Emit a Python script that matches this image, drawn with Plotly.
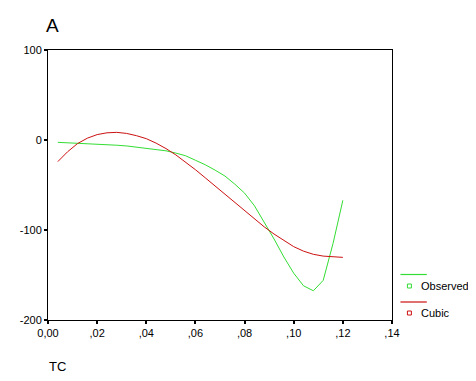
import plotly.graph_objects as go

tc = [0.004, 0.008, 0.012, 0.016, 0.020, 0.024, 0.028, 0.032, 0.036, 0.040,
      0.044, 0.048, 0.052, 0.056, 0.060, 0.064, 0.068, 0.072, 0.076, 0.080,
      0.084, 0.088, 0.092, 0.096, 0.100, 0.104, 0.108, 0.112, 0.116, 0.120]
observed = [-2.6, -3, -3.5, -4, -4.5, -5, -5.8, -6.6, -7.8, -9,
            -10.5, -12, -14.5, -17.5, -22.5, -27.5, -33.5, -40, -49, -59,
            -73, -91, -110, -130, -148, -162, -167.5, -156, -115, -67]
cubic = [-24, -13, -4, 2, 6, 8, 8.5, 7.3, 4.8, 1.5,
         -3.5, -9.5, -16.5, -24.5, -33, -42, -51, -60.5, -70, -79,
         -88, -96.5, -104.5, -112, -118.5, -123.5, -127, -129, -130, -130.4]

x_ticks = [0, 0.02, 0.04, 0.06, 0.08, 0.10, 0.12, 0.14]
x_tick_labels = ["0,00", ",02", ",04", ",06", ",08", ",10", ",12", ",14"]
y_ticks = [-200, -100, 0, 100]
y_tick_labels = ["-200", "-100", "0", "100"]

GREEN = "#33dd33"
RED = "#cc1111"
FONT = "Liberation Sans, Arial, sans-serif"

fig = go.Figure()
fig.add_trace(go.Scatter(x=tc, y=observed, mode="lines", name="Observed",
                         line=dict(color=GREEN, width=1)))
fig.add_trace(go.Scatter(x=tc, y=cubic, mode="lines", name="Cubic",
                         line=dict(color=RED, width=1)))

OFF = 8  # page body margin
W, H = 476 - OFF, 381 - OFF
# plot area in screen pixels: left 46, right 392, top 50, bottom 320
L = 46 - OFF
T = 50 - OFF
R = W - (392 - OFF)
B = H - (320 - OFF)

def px(xs):
    return (xs - 46) / (392 - 46)

def py(ys):
    return (320 - ys) / (320 - 50)

shapes = []
annotations = []
for color, yl, ym, label in [(GREEN, 274.5, 286, "Observed"), (RED, 302, 313, "Cubic")]:
    shapes.append(dict(type="line", xref="paper", yref="paper",
                       x0=px(400.5), x1=px(427), y0=py(yl), y1=py(yl),
                       line=dict(color=color, width=1.2)))
    shapes.append(dict(type="rect", xref="paper", yref="paper",
                       x0=px(407.5), x1=px(411.5), y0=py(ym + 2), y1=py(ym - 2),
                       line=dict(color=color, width=1)))
    annotations.append(dict(text=label, xref="paper", yref="paper",
                            x=px(419), y=py(ym), xanchor="left", yanchor="middle",
                            showarrow=False, font=dict(size=11, color="black", family=FONT)))

annotations.append(dict(text="A", xref="paper", yref="paper", x=px(51), y=py(25),
                        xanchor="center", yanchor="middle", showarrow=False,
                        font=dict(size=19, color="black", family=FONT)))
annotations.append(dict(text="TC", xref="paper", yref="paper", x=px(45), y=py(366),
                        xanchor="left", yanchor="middle", showarrow=False,
                        font=dict(size=13, color="black", family=FONT)))

fig.update_layout(
    width=W, height=H,
    margin=dict(l=L, r=R, t=T, b=B),
    paper_bgcolor="white", plot_bgcolor="white",
    showlegend=False,
    font=dict(family=FONT, size=11, color="black"),
    shapes=shapes, annotations=annotations,
    xaxis=dict(range=[0, 0.14], tickvals=x_ticks, ticktext=x_tick_labels,
               showgrid=False, zeroline=False, showline=True, mirror=True,
               linecolor="black", linewidth=1, ticks="outside", ticklen=3,
               tickwidth=2, tickcolor="black", tickfont=dict(size=11)),
    yaxis=dict(range=[-200, 100], tickvals=y_ticks, ticktext=y_tick_labels,
               showgrid=False, zeroline=False, showline=True, mirror=True,
               linecolor="black", linewidth=1, ticks="outside", ticklen=3,
               tickwidth=2, tickcolor="black", tickfont=dict(size=11)),
)

fig.write_html("out.html")
